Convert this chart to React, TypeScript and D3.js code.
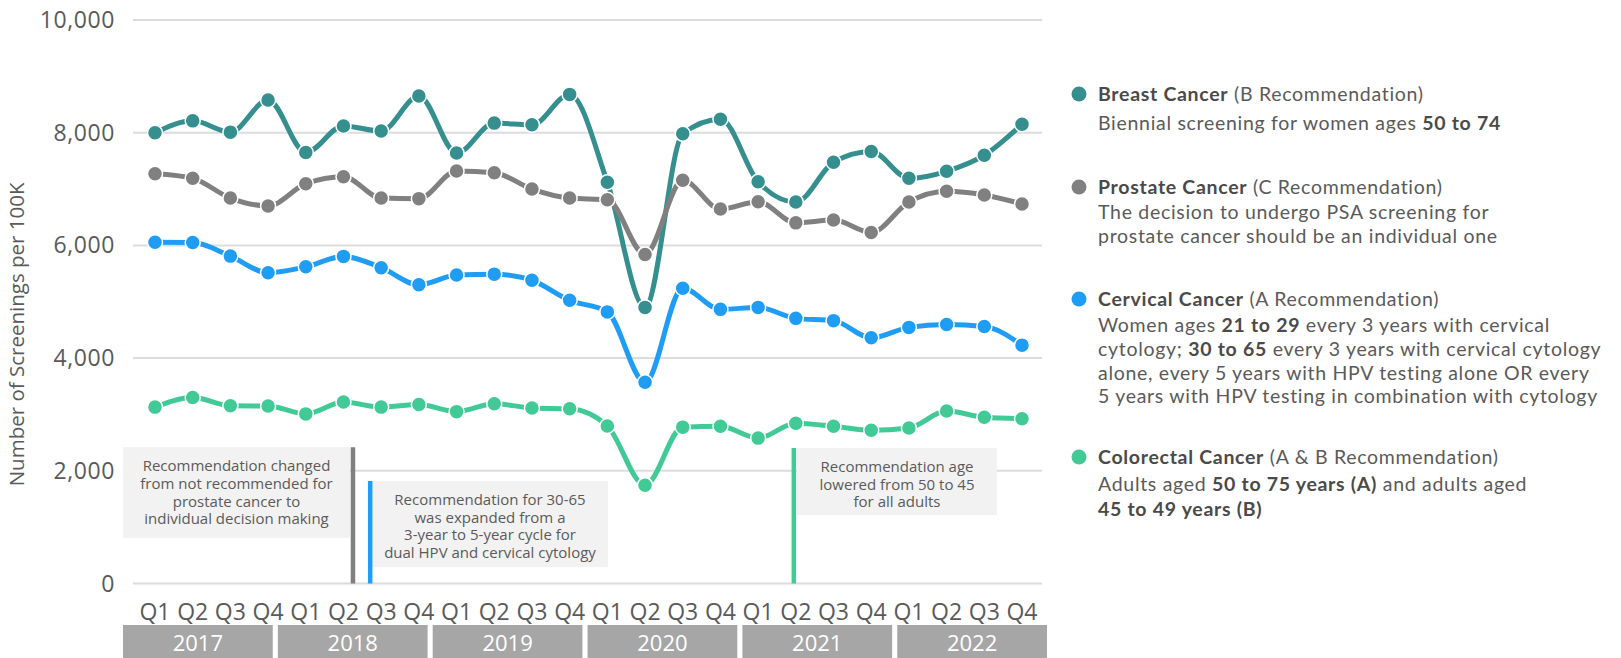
import React from 'react';
import * as d3 from 'd3';

// quarters and years
const years = ['2017', '2018', '2019', '2020', '2021', '2022'];
const quarterNames = ['Q1', 'Q2', 'Q3', 'Q4'];
const quarters = years.flatMap((y) => quarterNames.map((q) => `${y} ${q}`));

const yTicks = [0, 2000, 4000, 6000, 8000, 10000];

// screenings per 100K
const breast = [8000, 8210, 8010, 8580, 7650, 8120, 8030, 8650, 7640, 8170, 8140, 8680,
    7120, 4900, 7980, 8240, 7130, 6770, 7475, 7665, 7190, 7315, 7600, 8150];
const prostate = [7270, 7190, 6840, 6700, 7095, 7220, 6840, 6830, 7320, 7290, 7000, 6840,
    6810, 5840, 7155, 6645, 6775, 6400, 6450, 6230, 6770, 6960, 6895, 6735];
const cervical = [6055, 6050, 5810, 5515, 5620, 5805, 5605, 5300, 5475, 5490, 5380, 5025,
    4820, 3570, 5240, 4865, 4900, 4705, 4665, 4360, 4545, 4595, 4560, 4230];
const colorectal = [3130, 3300, 3155, 3150, 3010, 3220, 3130, 3175, 3050, 3190, 3115, 3100,
    2795, 1745, 2775, 2790, 2580, 2845, 2790, 2720, 2760, 3060, 2950, 2925];

const seriesNames = ['Breast Cancer', 'Prostate Cancer', 'Cervical Cancer', 'Colorectal Cancer'];
const seriesColors = ['#358f8f', '#808080', '#1f9df5', '#41c996'];
const seriesValues = [breast, prostate, cervical, colorectal];

// legend text: [text, bold]
type Seg = [string, boolean];
const legendTitles: Seg[][] = [
    [['Breast Cancer', true], [' (B Recommendation)', false]],
    [['Prostate Cancer', true], [' (C Recommendation)', false]],
    [['Cervical Cancer', true], [' (A Recommendation)', false]],
    [['Colorectal Cancer', true], [' (A & B Recommendation)', false]],
];
const legendLines: Seg[][][] = [
    [[['Biennial screening for women ages ', false], ['50 to 74', true]]],
    [
        [['The decision to undergo PSA screening for', false]],
        [['prostate cancer should be an individual one', false]],
    ],
    [
        [['Women ages ', false], ['21 to 29', true], [' every 3 years with cervical', false]],
        [['cytology; ', false], ['30 to 65', true], [' every 3 years with cervical cytology', false]],
        [['alone, every 5 years with HPV testing alone OR every', false]],
        [['5 years with HPV testing in combination with cytology', false]],
    ],
    [
        [['Adults aged ', false], ['50 to 75 years (A)', true], [' and adults aged', false]],
        [['45 to 49 years (B)', true]],
    ],
];

// annotations
const notes = [
    {
        quarter: '2018 Q2', dx: 9.5, color: '#808080', top: 2420, bottom: 810, boxLeft: 123, boxRight: 350,
        lines: ['Recommendation changed', 'from not recommended for', 'prostate cancer to', 'individual decision making'],
    },
    {
        quarter: '2018 Q3', dx: -11, color: '#1f9df5', top: 1820, bottom: 290, boxLeft: 372, boxRight: 608,
        lines: ['Recommendation for 30-65', 'was expanded from a', '3-year to 5-year cycle for', 'dual HPV and cervical cytology'],
    },
    {
        quarter: '2021 Q2', dx: -2, color: '#41c996', top: 2405, bottom: 1215, boxLeft: 797, boxRight: 997,
        lines: ['Recommendation age', 'lowered from 50 to 45', 'for all adults'],
    },
];

const FONT = '"Open Sans", Lato, sans-serif';
const LEGEND_FONT = 'Lato, "Open Sans", sans-serif';
const TEXT = '#5a5a5a';

const App = () => {
    const width = 1621;
    const height = 658;
    const plotLeft = 133;
    const plotRight = 1042;

    const x = d3.scalePoint<string>().domain(quarters).range([155, 1022]);
    const y = d3.scaleLinear().domain([0, 10000]).range([583.5, 20]);

    const line = d3
        .line<number>()
        .x((_, i) => x(quarters[i])!)
        .y((d) => y(d))
        .curve(d3.curveMonotoneX);

    const yearBand = d3.scaleBand<string>().domain(years).range([123, 1047]).paddingInner(0.033);

    const legendRows = [
        { title: 94, lines: [123] },
        { title: 187, lines: [212, 236] },
        { title: 299, lines: [325, 349, 373, 396] },
        { title: 457, lines: [484, 509] },
    ];

    const renderSegs = (segs: Seg[]) =>
        segs.map(([t, b], k) => (
            <tspan key={k} fontWeight={b ? 700 : 400} fill={b ? '#4a4a4a' : TEXT}>
                {t}
            </tspan>
        ));

    return (
        <svg
            width={width}
            height={height}
            style={{ position: 'absolute', left: 0, top: 0, background: '#fff' }}
            fontFamily={FONT}
        >
            {/* grid + y axis */}
            {yTicks.map((t) => (
                <g key={t}>
                    <line x1={plotLeft} x2={plotRight} y1={y(t)} y2={y(t)} stroke="#dcdcdc" strokeWidth={2} />
                    <text x={115} y={y(t)} dy="0.35em" textAnchor="end" fontSize={23} letterSpacing={0.6} fill={TEXT}>
                        {d3.format(',')(t)}
                    </text>
                </g>
            ))}
            <text
                transform={`translate(24, ${y(4420)}) rotate(-90)`}
                textAnchor="middle"
                fontSize={20.5}
                fill={TEXT}
            >
                Number of Screenings per 100K
            </text>

            {/* annotations */}
            {notes.map((n, i) => {
                const lx = x(n.quarter)! + n.dx;
                const top = y(n.top);
                const bottom = y(n.bottom);
                const cx = (n.boxLeft + n.boxRight) / 2;
                return (
                    <g key={i}>
                        <rect x={n.boxLeft} y={top} width={n.boxRight - n.boxLeft} height={bottom - top} fill="#f2f2f2" />
                        <line x1={lx} x2={lx} y1={top} y2={y(0)} stroke={n.color} strokeWidth={4.5} />
                        {n.lines.map((l, k) => (
                            <text key={k} x={cx} y={top + 24 + k * 17.7} textAnchor="middle" fontSize={15} fill={TEXT}>
                                {l}
                            </text>
                        ))}
                    </g>
                );
            })}

            {/* series */}
            {seriesValues.map((vals, s) => (
                <g key={seriesNames[s]}>
                    <path d={line(vals)!} fill="none" stroke={seriesColors[s]} strokeWidth={5} />
                    {vals.map((v, i) => (
                        <circle
                            key={i}
                            cx={x(quarters[i])}
                            cy={y(v)}
                            r={7.5}
                            fill={seriesColors[s]}
                            stroke="#fff"
                            strokeWidth={1.5}
                        />
                    ))}
                </g>
            ))}

            {/* x axis quarters */}
            {quarters.map((q) => (
                <text key={q} x={x(q)} y={620} textAnchor="middle" fontSize={23} fill={TEXT}>
                    {q.split(' ')[1]}
                </text>
            ))}
            {years.map((yr) => (
                <g key={yr}>
                    <rect x={yearBand(yr)} y={625} width={yearBand.bandwidth()} height={40} fill="#a6a6a6" />
                    <text
                        x={yearBand(yr)! + yearBand.bandwidth() / 2}
                        y={651}
                        textAnchor="middle"
                        fontSize={22}
                        fill="#fff"
                    >
                        {yr}
                    </text>
                </g>
            ))}

            {/* legend */}
            <g fontFamily={LEGEND_FONT} letterSpacing={0.7}>
                {legendRows.map((row, s) => (
                    <g key={s}>
                        <circle cx={1079} cy={row.title} r={7.5} fill={seriesColors[s]} />
                        <text x={1098} y={row.title} dy="0.35em" fontSize={19.5}>
                            {renderSegs(legendTitles[s])}
                        </text>
                        {row.lines.map((ly, k) => (
                            <text key={k} x={1098} y={ly} dy="0.35em" fontSize={19.5}>
                                {renderSegs(legendLines[s][k])}
                            </text>
                        ))}
                    </g>
                ))}
            </g>
        </svg>
    );
};

export default App;
